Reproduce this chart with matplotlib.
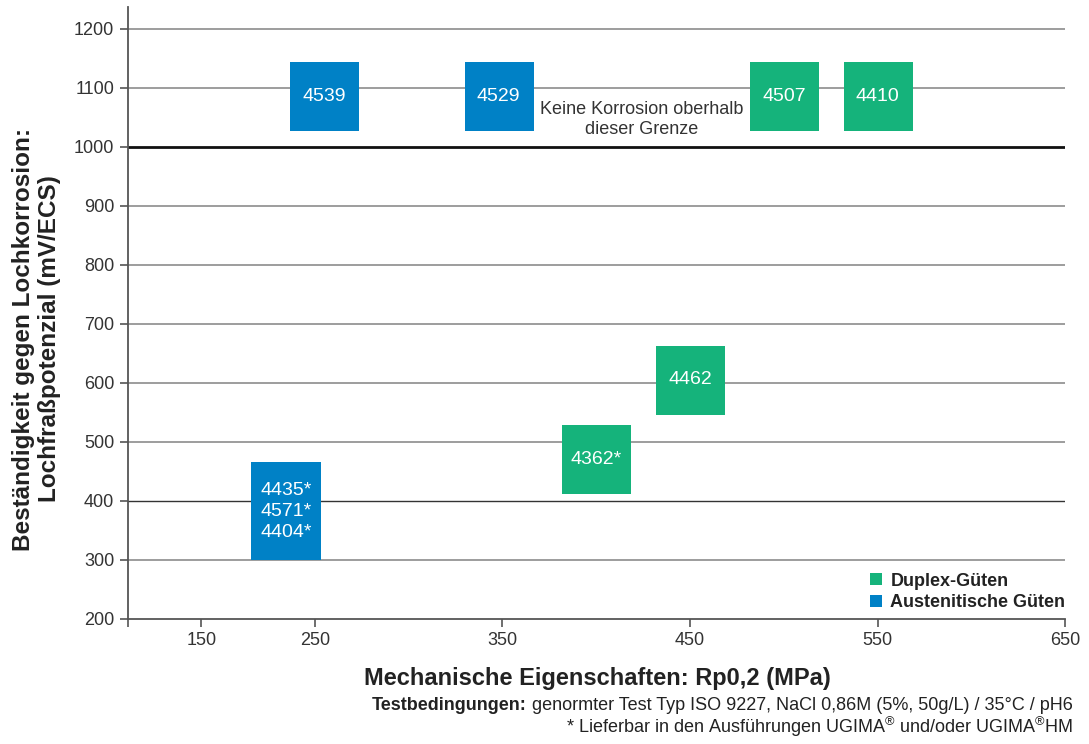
import numpy as np
import matplotlib
matplotlib.use("Agg")
import matplotlib.pyplot as plt
from matplotlib.lines import Line2D

plt.rcParams['font.family'] = ['Liberation Sans', 'DejaVu Sans']
plt.rcParams['mathtext.fontset'] = 'custom'
plt.rcParams['mathtext.rm'] = 'Liberation Sans'

# grades: (label, Rp0.2 [MPa], pitting potential [mV/ECS], family)
labels = ['4539', '4529', '4507', '4410', '4462', '4362*', '4435*\n4571*\n4404*']
rp02 = [255, 348, 500, 550, 450, 400, 225]
potential = [1086, 1086, 1086, 1086, 605, 470, 382]
family = ['aust', 'aust', 'duplex', 'duplex', 'duplex', 'duplex', 'aust']
tall = [False, False, False, False, False, False, True]

x_ticks = [150, 250, 350, 450, 550, 650]
y_ticks = [200, 300, 400, 500, 600, 700, 800, 900, 1000, 1100, 1200]
limit = 1000

blue = '#0081C6'
green = '#15B37B'
colors = {'aust': blue, 'duplex': green}

# x axis in the original is compressed below 250 MPa
k = 0.605
def fwd(x):
    x = np.asarray(x, dtype=float)
    return np.where(x < 250, 250 + (x - 250) * k, x)
def inv(u):
    u = np.asarray(u, dtype=float)
    return np.where(u < 250, 250 + (u - 250) / k, u)

fig = plt.figure(figsize=(10.89, 7.44), dpi=100)
ax = fig.add_axes([128 / 1089, 1 - 618.5 / 744, (1065.3 - 128) / 1089, (618.5 - 7) / 744])
ax.set_xscale('function', functions=(fwd, inv))
ax.set_xlim(85.4, 650)
ax.set_ylim(200, 1237)

for y in y_ticks[1:]:
    if y == limit:
        ax.axhline(y, color='#111111', lw=2.0, zorder=1)
    elif y == 400:
        ax.axhline(y, color='#333333', lw=1.0, zorder=1)
    else:
        ax.axhline(y, color='#8c8c8c', lw=1.2, zorder=1)

sq = 69 * 0.72
tall_marker = [(-0.35, -0.5), (0.35, -0.5), (0.35, 0.5), (-0.35, 0.5), (-0.35, -0.5)]
for lab, x, y, fam, t in zip(labels, rp02, potential, family, tall):
    if t:
        ax.plot(x, y, marker=tall_marker, markersize=98.7 * 0.72, color=colors[fam],
                markeredgewidth=0, linestyle='none', zorder=3)
    else:
        ax.plot(x, y, marker='s', markersize=sq, color=colors[fam],
                markeredgewidth=0, linestyle='none', zorder=3)
    ax.text(x, y, lab, color='white', fontsize=14, ha='center', va='center',
            linespacing=1.3, zorder=4)

ax.text(424, 1046, 'Keine Korrosion oberhalb\ndieser Grenze', ha='center', va='center',
        fontsize=13, color='#333333', linespacing=1.25, zorder=4)

ax.spines['top'].set_visible(False)
ax.spines['right'].set_visible(False)
for s in ['left', 'bottom']:
    ax.spines[s].set_color('#555555')
    ax.spines[s].set_linewidth(1.3)

ax.set_xticks([85.4] + x_ticks)
ax.set_xticklabels([''] + [str(v) for v in x_ticks])
ax.set_yticks(y_ticks)
ax.set_yticklabels([str(v) for v in y_ticks])
ax.tick_params(axis='both', direction='out', length=6, width=1.2, color='#555555',
               labelsize=13, labelcolor='#333333')
ax.tick_params(axis='x', pad=4)
ax.tick_params(axis='y', pad=4)

handles = [Line2D([], [], marker='s', color=green, linestyle='none', markersize=9, markeredgewidth=0),
           Line2D([], [], marker='s', color=blue, linestyle='none', markersize=9, markeredgewidth=0)]
leg = ax.legend(handles, ['Duplex-Güten', 'Austenitische Güten'], loc='lower right',
                bbox_to_anchor=(1.0, 0.012), frameon=False, borderpad=0, borderaxespad=0,
                handlelength=0.7, handletextpad=0.45, labelspacing=0.25,
                prop={'weight': 'bold', 'size': 13})
for t in leg.get_texts():
    t.set_color('#222222')

fig.text(36.5 / 1089, 1 - 339 / 744,
         'Beständigkeit gegen Lochkorrosion:\nLochfraßpotenzial (mV/ECS)',
         rotation=90, ha='center', va='center', multialignment='center',
         fontsize=17.5, fontweight='bold', color='#222222', linespacing=1.2)
fig.text(597 / 1089, 1 - 685 / 744, 'Mechanische Eigenschaften: Rp0,2 (MPa)',
         ha='center', va='baseline', fontsize=17, fontweight='bold', color='#222222')

note_size = 13
t1 = fig.text(1073 / 1089, 1 - 710 / 744,
              ' genormter Test Typ ISO 9227, NaCl 0,86M (5%, 50g/L) / 35°C / pH6',
              ha='right', va='baseline', fontsize=note_size, color='#222222')
fig.text(1073 / 1089, 1 - 733 / 744,
         r'* Lieferbar in den Ausführungen UGIMA$^{®}$ und/oder UGIMA$^{®}$HM',
         ha='right', va='baseline', fontsize=note_size, color='#222222')
fig.canvas.draw()
bb = t1.get_window_extent()
fig.text(bb.x0 / fig.bbox.width, 1 - 710 / 744, 'Testbedingungen:',
         ha='right', va='baseline', fontsize=note_size, fontweight='bold', color='#222222')

fig.savefig('out.png', dpi=100)
